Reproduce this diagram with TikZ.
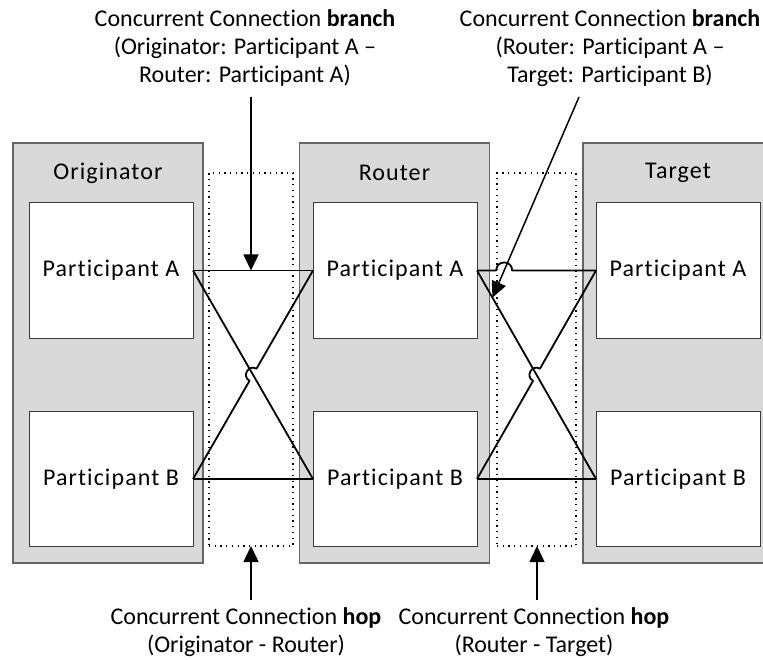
\documentclass[tikz,border=0pt]{standalone}
\usepackage{fontspec}
\setmainfont[Ligatures=NoCommon]{Carlito}
\newfontfamily\spacedfont[LetterSpace=4.5,Ligatures=NoCommon]{Carlito}
\usetikzlibrary{arrows.meta,calc}
\definecolor{panelgray}{HTML}{D9D9D9}
\definecolor{paneledge}{HTML}{666666}
\definecolor{boxedge}{HTML}{3A3A3A}
\begin{document}
\begin{tikzpicture}[x=1pt,y=-1pt,
  font=\fontsize{24}{28}\selectfont,
  panel/.style={draw=paneledge,fill=panelgray,line width=1.2pt,
    minimum width=190pt,minimum height=420pt,inner sep=0pt,outer sep=0pt},
  paneltitle/.style={font=\fontsize{24}{28}\spacedfont},
  partbox/.style={draw=boxedge,fill=white,line width=1pt,
    minimum width=164pt,minimum height=135pt,inner sep=0pt,outer sep=0pt,
    font=\fontsize{24}{28}\spacedfont},
  hopbox/.style={draw=black,line width=1.3pt,dash pattern=on 1.3pt off 4.4pt,
    inner sep=0pt,outer sep=0pt},
  xline/.style={line width=1.8pt,black,line join=round},
  arr/.style={line width=1.5pt,-{Triangle[length=16pt,width=15pt]}},
  lbl/.style={align=center,inner sep=0pt}]
\useasboundingbox (0,0) rectangle (763,660);

% grey panels
\node[panel] (org) at (108,353) {};
\node[panel] (rtr) at (394.5,353) {};
\node[panel] (tgt) at (678,353) {};
\node[paneltitle] (orgt) at (108,173) {Originator};
\node[paneltitle] (rtrt) at (394.5,173) {Router};
\node[paneltitle] (tgtt) at (678,173) {Target};

% participant boxes
\node[partbox] (oa) at (111,270.5) {Participant A};
\node[partbox] (ob) at (111,479) {Participant B};
\node[partbox] (ra) at (395,270.5) {Participant A};
\node[partbox] (rb) at (395,479) {Participant B};
\node[partbox] (ta) at (678,270.5) {Participant A};
\node[partbox] (tb) at (678,479) {Participant B};

% dotted hop frames
\node[hopbox,minimum width=84pt,minimum height=373pt] (hop1) at (251,359.5) {};
\node[hopbox,minimum width=79pt,minimum height=373pt] (hop2) at (536.5,359.5) {};

% branches between Originator and Router
\coordinate (c1) at ($(oa.east)!0.5!(rb.west)$);
\coordinate (p1) at ($(c1)!7pt!(ra.west)$);
\coordinate (q1) at ($(c1)!7pt!(ob.east)$);
\draw[xline] (oa.east) -- (ra.west);
\draw[xline] (ob.east) -- (rb.west);
\draw[xline] (oa.east) -- (rb.west);
\draw[xline] (ra.west) -- (p1)
  .. controls ($(p1)!9.3pt!-90:(c1)$) and ($(q1)!9.3pt!90:(c1)$) .. (q1)
  -- (ob.east);

% branches between Router and Target
\coordinate (brs) at (579,97);
\coordinate (brt) at ($(ra.east)!0.13!(tb.west)$);
\coordinate (rae) at (ra.east);
\coordinate (taw) at (ta.west);
\coordinate (jx) at (intersection of brs--brt and rae--taw);
\draw[xline] (ra.east) -- ($(jx)+(-8,0)$)
  .. controls ($(jx)+(-8,-10.7)$) and ($(jx)+(8,-10.7)$) .. ($(jx)+(8,0)$)
  -- (ta.west);
\coordinate (c2) at ($(ra.east)!0.5!(tb.west)$);
\coordinate (p2) at ($(c2)!7pt!(ta.west)$);
\coordinate (q2) at ($(c2)!7pt!(rb.east)$);
\draw[xline] (rb.east) -- (tb.west);
\draw[xline] (ra.east) -- (tb.west);
\draw[xline] (ta.west) -- (p2)
  .. controls ($(p2)!9.3pt!-90:(c2)$) and ($(q2)!9.3pt!90:(c2)$) .. (q2)
  -- (rb.east);

% labels and pointers
\node[lbl] (lblA) at (245,48) {Concurrent Connection \textbf{branch}\\(Originator: Participant A –\\Router: Participant A)};
\node[lbl] (lblB) at (610,48) {Concurrent Connection \textbf{branch}\\(Router: Participant A –\\Target: Participant B)};
\node[lbl] (lblC) at (246,632) {Concurrent Connection \textbf{hop}\\(Originator - Router)};
\node[lbl] (lblD) at (534,632) {Concurrent Connection \textbf{hop}\\(Router - Target)};

\coordinate (a1s) at (251,97);
\draw[arr] (a1s) -- (a1s |- oa.east);
\draw[arr] (brs) -- (brt);
\coordinate (h1s) at (251,600);
\coordinate (h2s) at (537,600);
\draw[arr] (h1s) -- (h1s |- hop1.south);
\draw[arr] (h2s) -- (h2s |- hop2.south);
\end{tikzpicture}
\end{document}
